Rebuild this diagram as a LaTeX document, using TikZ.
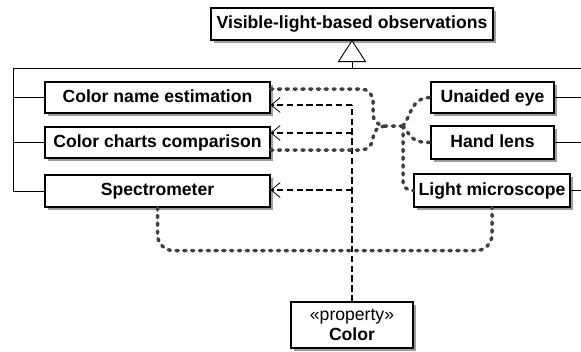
\documentclass[tikz,border=0pt]{standalone}
\usepackage{fontspec}
\setmainfont{Liberation Sans}
\usetikzlibrary{arrows.meta,shadows,calc}
\begin{document}
\begin{tikzpicture}[x=1pt,y=-1pt,
  umlbox/.style={draw, line width=1.2pt, fill=white, inner sep=0pt,
    font=\fontsize{17.6}{20}\selectfont\bfseries, text height=12.8pt, text depth=3.6pt,
    drop shadow={shadow xshift=3pt, shadow yshift=-3pt, fill=black!38, opacity=1}},
  propbox/.style={draw, line width=1.2pt, fill=white, inner sep=0pt, align=center,
    font=\fontsize{17.6}{20.5}\selectfont,
    drop shadow={shadow xshift=3pt, shadow yshift=-3pt, fill=black!38, opacity=1}},
  gen/.style={line width=0.9pt},
  dep/.style={line width=1.5pt, dash pattern=on 6.5pt off 3.3pt},
  deptip/.style={-{Straight Barb[length=9pt,width=15pt,line width=0.8pt]}},
  dots/.style={draw=black!75, line width=3.5pt, line cap=round, dash pattern=on 2.2pt off 5.6pt}
]
\useasboundingbox (0,0) rectangle (581,351);

% nodes
\node[umlbox, minimum width=282pt, minimum height=32pt] (top) at (352,24) {Visible-light-based observations};
\node[umlbox, minimum width=225pt, minimum height=31pt] (cne) at (157.5,97.5) {Color name estimation};
\node[umlbox, minimum width=225pt, minimum height=31pt] (ccc) at (157.5,142.5) {Color charts comparison};
\node[umlbox, minimum width=225pt, minimum height=32pt] (spec) at (157.5,191) {Spectrometer};
\node[umlbox, minimum width=123pt, minimum height=31pt] (eye) at (492.5,97.5) {Unaided eye};
\node[umlbox, minimum width=123pt, minimum height=33pt] (lens) at (492.5,142.5) {Hand lens};
\node[umlbox, minimum width=156pt, minimum height=33pt] (micro) at (492,190.5) {Light microscope};
\node[propbox, minimum width=122pt, minimum height=46pt] (color) at (352,325) {«property»\\\textbf{Color}};

% generalization tree
\coordinate (tb) at ($(top.south)+(0,21)$);
\coordinate (lrail) at (13,68);
\coordinate (rrail) at (581,68);
\draw[gen, fill=white] (top.south) -- ($(tb)+(13.5,0)$) -- ($(tb)+(-13.5,0)$) -- cycle;
\draw[gen] (tb) -- (tb |- lrail);
\draw[gen] (rrail) -- (lrail) -- (lrail |- spec.west);
\draw[gen] (lrail |- cne.west) -- (cne.west);
\draw[gen] (lrail |- ccc.west) -- (ccc.west);
\draw[gen] (lrail |- spec.west) -- (spec.west);
\draw[gen] (eye.east) -- (rrail |- eye.east);
\draw[gen] (lens.east) -- (rrail |- lens.east);
\draw[gen] (micro.east) -- (rrail |- micro.east);

% dependencies from Color
\coordinate (d1) at (352,105);
\coordinate (d2) at (352,133);
\coordinate (d3) at (352,190);
\draw[dep] (color.north) -- (d1);
\draw[dep, deptip] (d1) -- (cne.east |- d1);
\draw[dep, deptip] (d2) -- (ccc.east |- d2);
\draw[dep, deptip] (d3) -- (spec.east |- d3);

% dotted connectors
\coordinate (hub) at (403,126);
\draw[dots, rounded corners=12pt] ([yshift=8.5pt]cne.east) -- (373,89) -- (373,126) -- (hub);
\draw[dots, rounded corners=12pt] ([yshift=-7.5pt]ccc.east) -- (373,150) -- (373,126) -- (385,126);
\draw[dots] (hub) .. controls (411,116) and (411,97.5) .. (eye.west);
\draw[dots] (hub) .. controls (411,136) and (411,142.5) .. (lens.west);
\draw[dots, rounded corners=9pt] (hub) |- (micro.west);
\draw[dots, rounded corners=16pt] (spec.south) -- ++(0,43) -| (micro.south);
\end{tikzpicture}
\end{document}
